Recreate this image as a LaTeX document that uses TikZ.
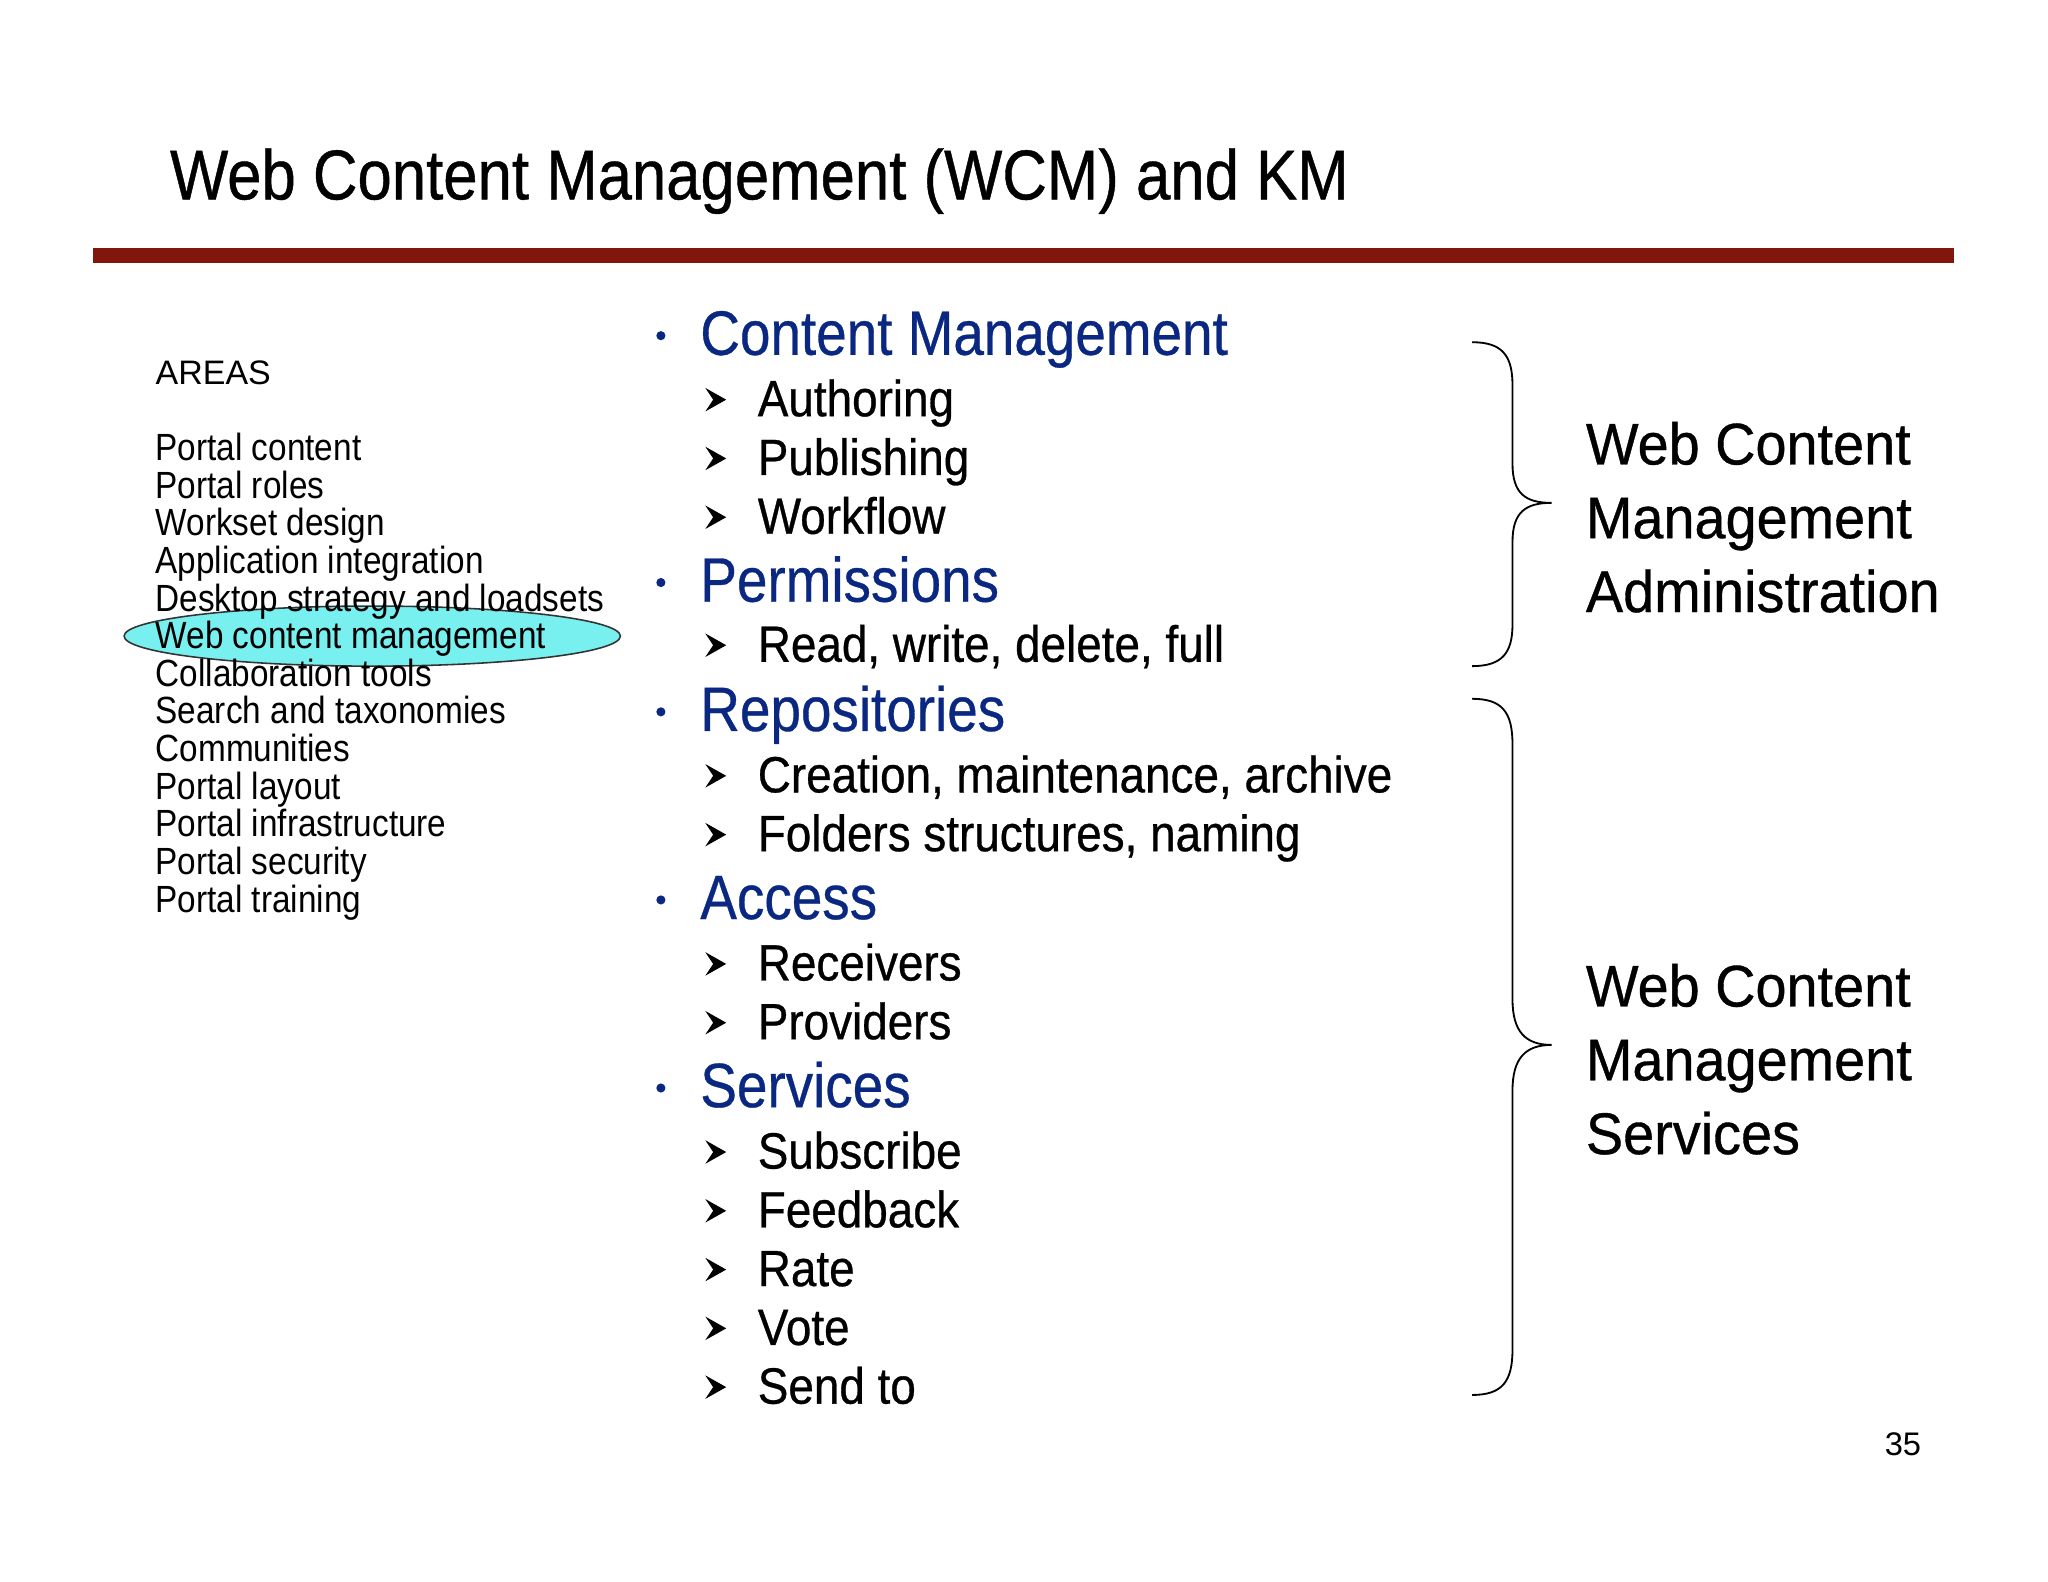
\documentclass[tikz,border=0pt]{standalone}
\usepackage{fontspec}
\setmainfont{Liberation Sans}
\newfontfamily\ttlfont[FakeStretch=0.875,FakeBold=0.6]{Liberation Sans}
\newfontfamily\areafont[FakeStretch=0.88]{Liberation Sans}
\newfontfamily\headfont[FakeStretch=0.875,FakeBold=0.5]{Liberation Sans}
\newfontfamily\subfont[FakeStretch=0.9,FakeBold=0.6]{Liberation Sans}
\newfontfamily\sidefont[FakeStretch=0.95,FakeBold=0.6]{Liberation Sans}
\definecolor{rulered}{RGB}{130,22,12}
\definecolor{hdblue}{RGB}{10,40,130}
\definecolor{hicyan}{RGB}{120,240,240}
\begin{document}
\begin{tikzpicture}[x=1pt,y=-1pt,
  ttl/.style={anchor=mid west,inner sep=0,font=\ttlfont\fontsize{54}{54}\selectfont},
  area/.style={anchor=mid west,inner sep=0,font=\areafont\fontsize{29}{29}\selectfont},
  head/.style={anchor=mid west,inner sep=0,text=hdblue,font=\headfont\fontsize{48}{48}\selectfont},
  sub/.style={anchor=mid west,inner sep=0,font=\subfont\fontsize{39}{39}\selectfont},
  side/.style={anchor=west,inner sep=0,align=left,font=\sidefont\fontsize{45}{56.5}\selectfont},
  bul/.style={fill=hdblue,circle,inner sep=0,minimum size=7pt},
  brace/.style={draw,line width=1.4pt}]
\useasboundingbox (0,0) rectangle (1568,1211);
\fill[white] (0,0) rectangle (1568,1211);
\node[ttl] (title) at (130,150) {Web Content Management (WCM) and KM};
\fill[rulered] (71,190) rectangle (1496,201);
\fill[hicyan,draw=black!80,line width=1.2pt] (285,487) ellipse (190 and 23);
\node[anchor=mid west,inner sep=0,font=\fontsize{26}{26}\selectfont] (areas) at (119,292) {AREAS};
\foreach \t [count=\i from 0] in {Portal content,Portal roles,Workset design,Application integration,Desktop strategy and loadsets,Web content management,Collaboration tools,Search and taxonomies,Communities,Portal layout,Portal infrastructure,Portal security,Portal training}
  \node[area] (a\i) at (119,350+28.8*\i) {\t};
\foreach \t/\y [count=\i] in {Content Management/257,Permissions/446,Repositories/545,Access/689,Services/833}{
  \node[bul] (b\i) at (506,\y) {};
  \node[head] (h\i) at (536,\y+12) {\t};}
\foreach \t/\y [count=\i] in {Authoring/306,Publishing/351,Workflow/396,{Read, write, delete, full}/494,{Creation, maintenance, archive}/594,{Folders structures, naming}/639,Receivers/738,Providers/783,Subscribe/882,Feedback/927,Rate/972,Vote/1017,Send to/1062}{
  \fill (540,\y-9) -- (556,\y) -- (540,\y+9) -- (546,\y) -- cycle;
  \node[sub] (s\i) at (580,\y+10) {\t};}
\draw[brace] (1127,262) .. controls (1150,262) and (1158,272) .. (1158,295) -- (1158,355)
  .. controls (1158,378) and (1168,385) .. (1188,385)
  .. controls (1168,385) and (1158,392) .. (1158,415) -- (1158,478)
  .. controls (1158,500) and (1150,510) .. (1127,510);
\draw[brace] (1127,535) .. controls (1150,535) and (1158,545) .. (1158,570) -- (1158,765)
  .. controls (1158,790) and (1168,800) .. (1188,800)
  .. controls (1168,800) and (1158,810) .. (1158,835) -- (1158,1033)
  .. controls (1158,1058) and (1150,1068) .. (1127,1068);
\node[side] (r1) at (1214,396) {Web Content\\Management\\Administration};
\node[side] (r2) at (1214,811) {Web Content\\Management\\Services};
\node[anchor=mid east,inner sep=0,font=\fontsize{25}{25}\selectfont] (pg) at (1471,1112) {35};
\end{tikzpicture}
\end{document}
